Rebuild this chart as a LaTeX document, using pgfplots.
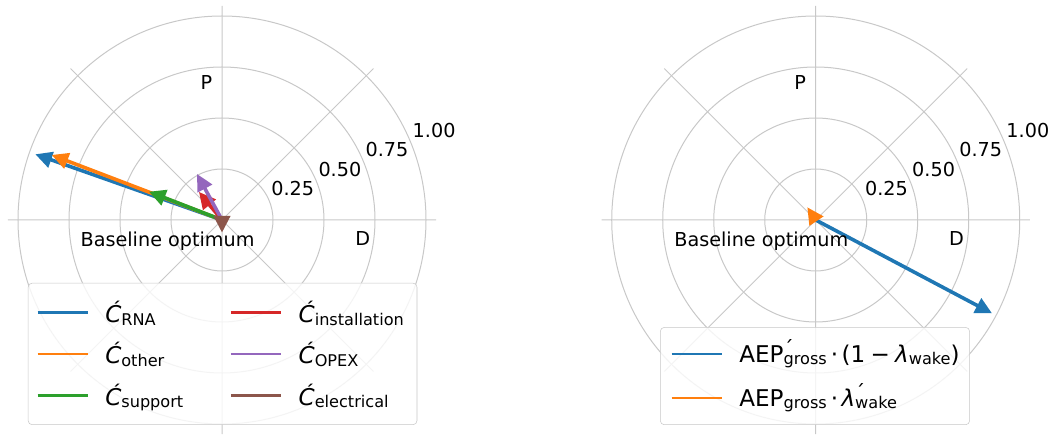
\documentclass[border=0pt]{standalone}
\usepackage{fontspec}
\setmainfont{DejaVu Sans}[ItalicFont={DejaVu Sans Oblique}]
\usepackage{pgfplots}
\pgfplotsset{compat=1.18}
\usepgfplotslibrary{polar}
\usetikzlibrary{arrows.meta}
\definecolor{c0}{HTML}{1F77B4}
\definecolor{c1}{HTML}{FF7F0E}
\definecolor{c2}{HTML}{2CA02C}
\definecolor{c3}{HTML}{D62728}
\definecolor{c4}{HTML}{9467BD}
\definecolor{c5}{HTML}{8C564B}
\definecolor{gridgray}{HTML}{C8C8C8}
\newcommand\fs{\fontsize{14.4pt}{17pt}\selectfont}
\newcommand\lfs{\fontsize{17.3pt}{20pt}\selectfont}
\newcommand\sub[1]{\raisebox{-2pt}{\fontsize{12.1pt}{13pt}\selectfont #1}}
\newcommand\acc{\rlap{\raisebox{5pt}{\fontsize{15pt}{15pt}\selectfont ´}}}
\tikzset{
  rlab/.style={font=\fs, anchor=base west, inner sep=0pt, xshift=1.5pt, yshift=3.4pt},
  tlab/.style={font=\fs, anchor=base, inner sep=0pt},
}
\pgfplotsset{
  mypolar/.style={
    anchor=center, scale only axis, width=321.3pt, height=321.3pt,
    ymin=0, ymax=1.05,
    xtick={0,45,...,315}, ytick={0.25,0.5,0.75,1},
    xticklabels={}, yticklabels={},
    grid=major, major grid style={color=gridgray, line width=0.75pt},
    axis line style={draw=none}, major tick length=0pt,
    clip=false,
    legend cell align=left,
  },
  arr/.style={no markers, line width=2.7pt, -{Triangle[length=12.5pt,width=12pt]}},
  legend image code/.code={\draw[#1, arrows=-, line width=2pt] (0pt,0pt) -- (37.5pt,0pt);},
}
\newcommand\polarlabels{%
  \node[rlab] at (axis cs:22.5,0.25) {0.25};
  \node[rlab] at (axis cs:22.5,0.5) {0.50};
  \node[rlab] at (axis cs:22.5,0.75) {0.75};
  \node[rlab] at (axis cs:22.5,1) {1.00};
  \node[tlab] at (axis cs:96.8,0.645) {P};
  \node[tlab] at (axis cs:349.9,0.701) {D};
  \node[tlab] at (axis cs:206.1,0.297) {Baseline optimum};
}
\begin{document}
\begin{tikzpicture}
\path[use as bounding box] (0,0) rectangle (789pt,326.25pt);
\begin{polaraxis}[mypolar, at={(166.5pt,161.25pt)},
  legend columns=3, transpose legend,
  legend style={at={(0.047,0.0215)}, anchor=south west,
    draw=gridgray, rounded corners=3pt, fill=white, fill opacity=0.8, text opacity=1,
    font=\lfs, inner xsep=6pt, inner ysep=12.6pt, row sep=12pt,
    nodes={inner sep=0pt, text height=17pt, text depth=2pt, text width=82.75pt, align=left},
    /tikz/every odd column/.append style={column sep=12.3pt},
    /tikz/every even column/.append style={column sep=10.5pt}},
]
\addplot[arr, c0] coordinates {(0,0) (160.6,0.970)};
\addlegendentry{\textit{Ć}\sub{RNA}}
\addplot[arr, c1] coordinates {(0,0) (159.1,0.894)};
\addlegendentry{\textit{Ć}\sub{other}}
\addplot[arr, c2] coordinates {(0,0) (158.8,0.384)};
\addlegendentry{\textit{Ć}\sub{support}}
\addplot[arr, c3] coordinates {(0,0) (129.4,0.178)};
\addlegendentry{\textit{Ć}\sub{installation}}
\addplot[arr, c4] coordinates {(0,0) (118.5,0.257)};
\addlegendentry{\textit{Ć}\sub{OPEX}}
\addplot[arr, c5] coordinates {(0,0) (270,0.062)};
\addlegendentry{\textit{Ć}\sub{electrical}}
\polarlabels
\end{polaraxis}
\begin{polaraxis}[mypolar, at={(611.8pt,161.25pt)},
  legend style={at={(0.1366,0.0215)}, anchor=south west,
    draw=gridgray, rounded corners=3pt, fill=white, fill opacity=0.8, text opacity=1,
    font=\lfs, inner xsep=7.5pt, inner ysep=11.5pt, row sep=16pt,
    nodes={inner sep=0pt, text height=14.5pt, text depth=2.5pt},
    /tikz/every odd column/.append style={column sep=12.3pt}},
]
\addplot[arr, c0] coordinates {(0,0) (332.1,0.978)};
\addlegendentry{AEP\acc\sub{gross}\hspace{3pt}·\hspace{2.5pt}(1\hspace{4pt}−\hspace{4pt}\textit{λ}\sub{wake})}
\addplot[arr, c1] coordinates {(0,0) (123.5,0.075)};
\addlegendentry{AEP\sub{gross}\hspace{3pt}·\hspace{2.5pt}\textit{λ}\acc\sub{wake}}
\polarlabels
\end{polaraxis}
\end{tikzpicture}
\end{document}
